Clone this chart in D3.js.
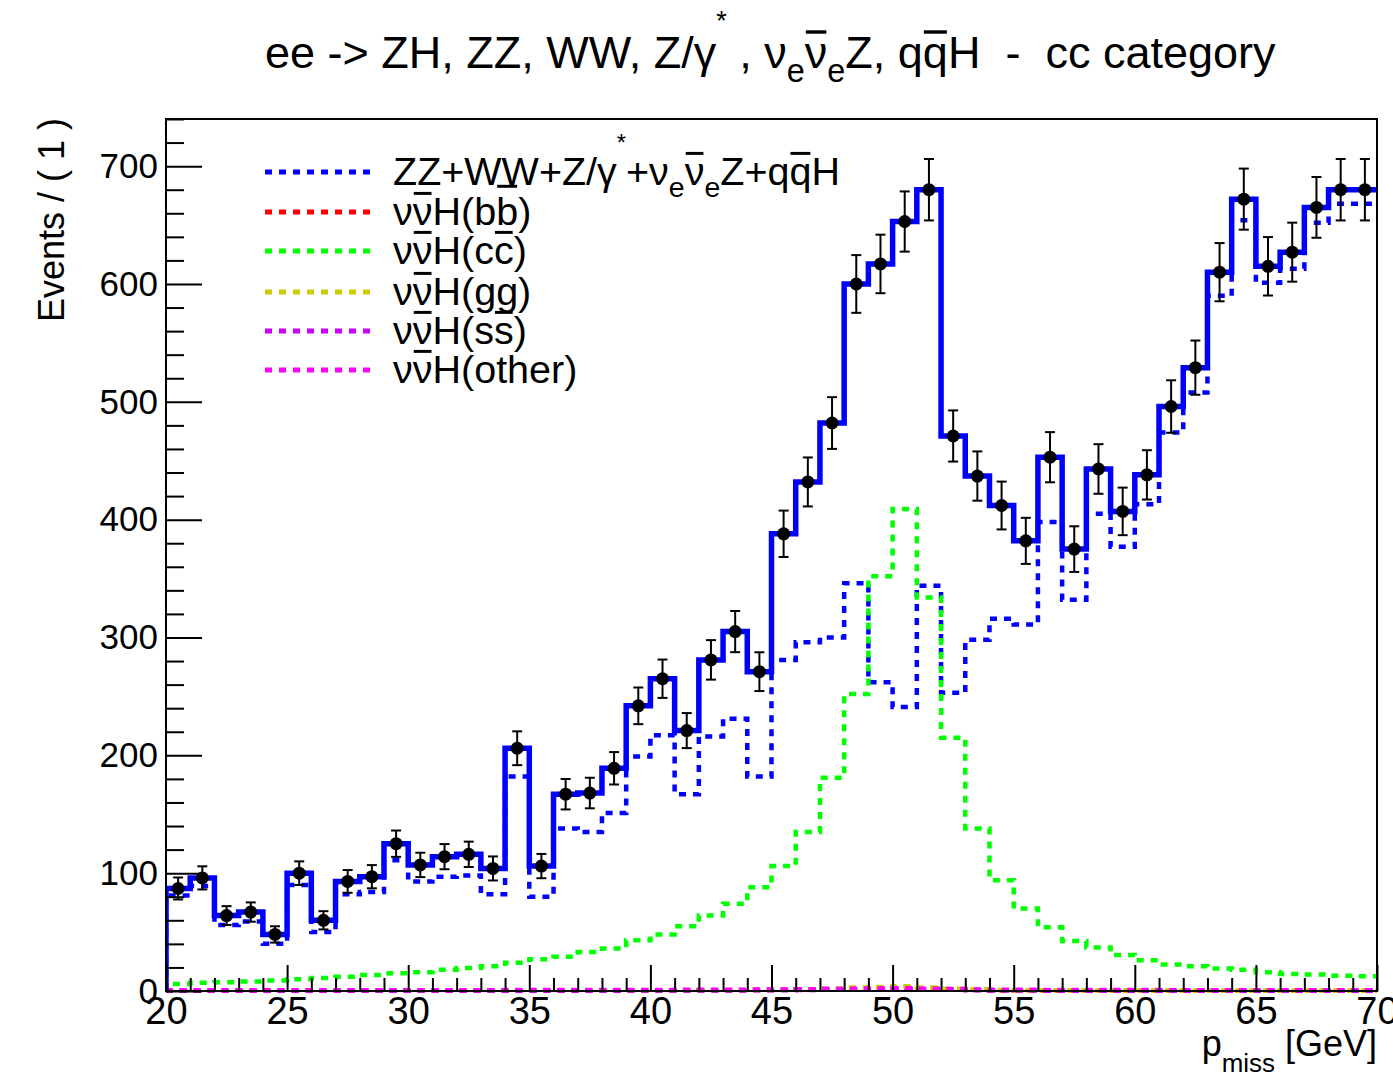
<!DOCTYPE html>
<html><head><meta charset="utf-8">
<script src="https://cdn.jsdelivr.net/npm/d3@7"></script>
<style>
body{margin:0;background:#fff}
svg{display:block}
text{font-family:"Liberation Sans",Arial,Helvetica,sans-serif;white-space:pre}
</style>
</head><body><svg id="c" width="1393" height="1076"></svg>
<script>
// ---------------- data ----------------
const binEdges = [20,21,22,23,24,25,26,27,28,29,30,31,32,33,34,35,36,37,38,39,40,41,42,43,44,45,46,47,48,49,50,51,52,53,54,55,56,57,58,59,60,61,62,63,64,65,66,67,68,69,70];
const dataCounts = [87,96,64,67,48,100,60,93,97,125,107,114,116,104,206,106,167,168,189,242,265,221,281,305,271,388,432,482,600,617,653,680,471,437,412,382,453,375,443,407,438,496,529,610,672,615,627,665,680,680];
const totalFit = [87,96,64,67,48,100,60,93,97,125,107,114,116,104,206,106,167,168,189,242,265,221,281,305,271,388,432,482,600,617,653,680,471,437,412,382,453,375,443,407,438,496,529,610,672,615,627,665,680,680];
const bkgZZWW = [81,89,56,59,40,90,50,82,84,111,93,97,98,82,182,80,138,135,151,199,217,167,216,231,182,281,296,300,346,262,241,344,253,298,316,311,398,332,405,377,413,474,508,590,654,601,613,652,668,668];
const sigBB = [0.2,0.2,0.2,0.2,0.2,0.2,0.2,0.2,0.2,0.2,0.2,0.2,0.2,0.2,0.3,0.3,0.3,0.3,0.4,0.4,0.5,0.5,0.6,0.7,0.8,1,1.3,1.8,2.5,3,2.8,2,1.3,0.8,0.5,0.4,0.3,0.3,0.2,0.2,0.2,0.2,0.2,0.2,0.2,0.2,0.2,0.2,0.2,0.2];
const sigCC = [6,7,7.5,8,9,10,11,12,13.5,15,16,18,19.5,21,24,27,29,33,36,43,48,55,64,74,88,106,135,181,252,352,409,334,215,138,94,70,54,42.5,37,30.5,26,22.5,21,19,18,16,14.5,14,13,12.5];
const sigGG = [0.3,0.3,0.3,0.3,0.3,0.3,0.3,0.3,0.3,0.3,0.3,0.3,0.4,0.4,0.4,0.4,0.5,0.5,0.5,0.6,0.6,0.7,0.8,0.9,1,1.2,1.5,2,2.8,3.5,4,3,2,1.3,0.9,0.7,0.6,0.5,0.5,0.4,0.4,0.4,0.3,0.3,0.3,0.3,0.3,0.3,0.3,0.3];
const sigSS = [0.2,0.2,0.2,0.2,0.2,0.2,0.2,0.2,0.2,0.2,0.2,0.2,0.2,0.2,0.3,0.3,0.3,0.3,0.3,0.4,0.4,0.4,0.5,0.5,0.6,0.7,0.8,1,1.3,1.6,1.8,1.4,1,0.7,0.5,0.4,0.3,0.3,0.3,0.2,0.2,0.2,0.2,0.2,0.2,0.2,0.2,0.2,0.2,0.2];
const sigOther = [0.6,0.6,0.6,0.6,0.6,0.6,0.6,0.6,0.6,0.7,0.7,0.7,0.7,0.7,0.8,0.8,0.8,0.8,0.9,0.9,0.9,1,1,1.1,1.2,1.3,1.4,1.6,1.9,2.2,2.4,2,1.6,1.3,1.1,1,0.9,0.9,0.8,0.8,0.8,0.7,0.7,0.7,0.7,0.7,0.7,0.7,0.7,0.7];
const xTickMajor = [20,25,30,35,40,45,50,55,60,65,70];
const yTickMajor = [0,100,200,300,400,500,600,700];
const yTickMinor = [20,40,60,80,120,140,160,180,220,240,260,280,320,340,360,380,420,440,460,480,520,540,560,580,620,640,660,680,720,740];
const seriesNames = ["bkg","bb","cc","gg","ss","other"];
const seriesColors = ["#0000ff","#ff0000","#00ff00","#cccc00","#cc00ff","#ff00ff"];

// ---------------- layout ----------------
const svg = d3.select("#c");
const L = 166, R = 1377, T = 119, B = 991;
const x = d3.scaleLinear().domain([20,70]).range([L,R]);
const y = d3.scaleLinear().domain([0,740]).range([B,T]);
const FONT = '"Liberation Sans",Arial,Helvetica,sans-serif';

svg.append("defs").append("clipPath").attr("id","clip")
  .append("rect").attr("x",L).attr("y",T-2).attr("width",R-L).attr("height",B-T+4);

function stepPoints(vals){
  const pts = [[binEdges[0],0]];
  vals.forEach((v,i)=>pts.push([binEdges[i],v]));
  pts.push([binEdges[binEdges.length-1], vals[vals.length-1]]);
  return pts;
}
const stepLine = d3.line().x(d=>x(d[0])).y(d=>y(d[1])).curve(d3.curveStepAfter);

const plot = svg.append("g").attr("clip-path","url(#clip)");
const seriesVals = [bkgZZWW,sigBB,sigCC,sigGG,sigSS,sigOther];
seriesVals.forEach((vals,k)=>{
  plot.append("path").attr("d",stepLine(stepPoints(vals)))
    .attr("fill","none").attr("stroke",seriesColors[k]).attr("stroke-width",4.5)
    .attr("stroke-dasharray","7 7");
});
plot.append("path").attr("d",stepLine(stepPoints(totalFit)))
  .attr("fill","none").attr("stroke","#0000ff").attr("stroke-width",5.5);

// data points with sqrt(N) errors
const centers = dataCounts.map((v,i)=>(binEdges[i]+binEdges[i+1])/2);
const pg = svg.append("g");
dataCounts.forEach((v,i)=>{
  const cx = x(centers[i]), e = Math.sqrt(v);
  pg.append("line").attr("x1",cx).attr("x2",cx).attr("y1",y(v+e)).attr("y2",y(v-e)).attr("stroke","#000").attr("stroke-width",2);
  [v+e,v-e].forEach(w=>pg.append("line").attr("x1",cx-5).attr("x2",cx+5).attr("y1",y(w)).attr("y2",y(w)).attr("stroke","#000").attr("stroke-width",2));
  pg.append("circle").attr("cx",cx).attr("cy",y(v)).attr("r",6.5).attr("fill","#000");
});

// frame
svg.append("rect").attr("x",L).attr("y",T).attr("width",R-L).attr("height",B-T)
  .attr("fill","none").attr("stroke","#000").attr("stroke-width",2);

// axes
const xMinor = binEdges.filter(v=>xTickMajor.indexOf(v)<0);
const gx = svg.append("g").attr("transform",`translate(0,${B})`)
  .call(d3.axisBottom(x).tickValues(xTickMajor).tickSize(-26).tickPadding(6).tickFormat(d3.format("d")));
svg.append("g").attr("transform",`translate(0,${B})`)
  .call(d3.axisBottom(x).tickValues(xMinor).tickSize(-13).tickFormat(""));
const gy = svg.append("g").attr("transform",`translate(${L},0)`)
  .call(d3.axisLeft(y).tickValues(yTickMajor).tickSize(-36).tickPadding(8).tickFormat(d3.format("d")));
svg.append("g").attr("transform",`translate(${L},0)`)
  .call(d3.axisLeft(y).tickValues(yTickMinor).tickSize(-18).tickFormat(""));
svg.selectAll(".domain").remove();
svg.selectAll(".tick line").attr("stroke","#000").attr("stroke-width",2);
svg.selectAll(".tick text").attr("font-family",FONT).attr("fill","#000");
gx.selectAll(".tick text").attr("font-size",38);
gy.selectAll(".tick text").attr("font-size",35);

// ---------------- rich text ----------------
// segments: [text, kind] kind: n | sub | sup | bar | barx (bar drawn high, as in the original)
function rich(g, x0, y0, fs, segs, subShift){
  let cx = x0;
  const ss = subShift===undefined ? 0.30 : subShift;
  segs.forEach(([t,k])=>{
    let size = fs, dy = 0;
    if(k==="sub"){ size = fs*0.72; dy = fs*ss; }
    if(k==="sup"){ size = fs*0.6; dy = -fs*0.85; }
    const el = g.append("text").attr("x",cx).attr("y",y0+dy).attr("font-size",size)
      .attr("font-family",FONT).attr("fill","#000").text(t);
    const w = el.node().getComputedTextLength();
    if(k==="bar"||k==="barx"){
      const by = k==="barx" ? y0 - fs*0.98 : y0 - fs*0.80;
      g.append("line").attr("x1",cx+1).attr("x2",cx+w-1).attr("y1",by).attr("y2",by)
        .attr("stroke","#000").attr("stroke-width",fs*0.075);
    }
    cx += w;
  });
  return cx - x0;
}

// title
const tg = svg.append("g");
rich(tg, 265, 68, 45, [["ee -> ZH, ZZ, WW, Z/γ","n"],["*","sup"],[" , ν","n"],["e","sub"],["ν","bar"],["e","sub"],["Z, q","n"],["q","bar"],["H  -  cc category","n"]]);

// y title
svg.append("text").attr("transform","translate(64,118) rotate(-90)")
  .attr("text-anchor","end").attr("font-family",FONT).attr("font-size",36).text("Events / ( 1 )");

// x title
const xtSegs = [["p","n"],["miss","sub"],[" [GeV]","n"]];
const xtW = (()=>{const tmp = svg.append("g"); const w = rich(tmp,0,0,36,xtSegs,0.45); tmp.remove(); return w;})();
rich(svg.append("g"), R - xtW, 1056, 36, xtSegs, 0.45);

// legend
const legendLabels = [
  [["ZZ+WW+Z/γ","n"],["*","sup"],["+ν","n"],["e","sub"],["ν","bar"],["e","sub"],["Z+q","n"],["q","bar"],["H","n"]],
  [["ν","n"],["ν","bar"],["H(b","n"],["b","barx"],[")","n"]],
  [["ν","n"],["ν","bar"],["H(c","n"],["c","bar"],[")","n"]],
  [["ν","n"],["ν","bar"],["H(gg)","n"]],
  [["ν","n"],["ν","bar"],["H(s","n"],["s","bar"],[")","n"]],
  [["ν","n"],["ν","bar"],["H(other)","n"]]
];
const legY = [172,212,251,292,331,370];
const lg = svg.append("g");
seriesNames.forEach((n,i)=>{
  lg.append("line").attr("x1",265).attr("x2",370).attr("y1",legY[i]).attr("y2",legY[i])
    .attr("stroke",seriesColors[i]).attr("stroke-width",5).attr("stroke-dasharray","7 7");
  rich(lg, 393, legY[i]+13, 39.5, legendLabels[i]);
});
</script>
</body></html>
